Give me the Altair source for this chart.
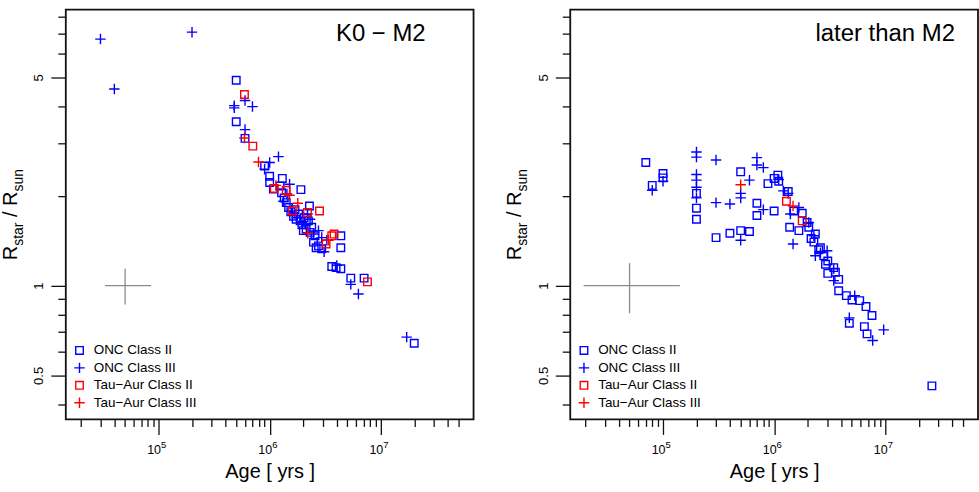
import altair as alt
import numpy as np
import pandas as pd

FONT = "Liberation Sans"
SERIES = ["ONC Class II", "ONC Class III", "Tau−Aur Class II", "Tau−Aur Class III"]
COLORS = ["#0000ff", "#0000ff", "#ff0000", "#ff0000"]
SQUARE = "M-0.72,-0.72H0.72V0.72H-0.72Z"
PLUS = "M-1,0H1M0,-1V1"
SHAPES = [SQUARE, PLUS, SQUARE, PLUS]

# ---------------- K0 – M2 ----------------
k_onc2_age = [5.0e5, 5.0e5, 6.0e5, 9.0e5, 1.0e6, 1.0e6, 1.08e6, 1.30e6, 1.24e6, 1.28e6,
              1.35e6, 1.41e6, 1.48e6, 1.55e6, 1.64e6, 1.73e6, 1.82e6, 1.88e6, 1.95e6, 2.04e6,
              2.13e6, 2.23e6, 2.31e6, 2.39e6, 2.48e6, 2.62e6, 2.75e6, 2.94e6, 1.91e6, 2.28e6,
              4.37e6, 4.37e6, 3.62e6, 3.96e6, 4.37e6, 5.37e6, 7.08e6, 2.0e7, 1.69e6, 2.01e6,
              2.56e6]
k_onc2_r = [4.89, 3.55, 3.12, 2.52, 2.33, 2.22, 2.11, 2.29, 2.16, 2.05,
            1.97, 1.90, 1.83, 1.77, 1.71, 1.67, 1.74, 1.65, 1.60, 1.69,
            1.55, 1.65, 1.51, 1.57, 1.40, 1.34, 1.36, 1.33, 2.10, 1.85,
            1.47, 1.34, 1.16, 1.15, 1.14, 1.06, 1.06, 0.641, 1.80, 1.53,
            1.47]
k_onc3_age = [3.0e4, 2.0e5, 4.0e4, 4.8e5, 4.8e5, 6.0e5, 7.0e5, 6.0e5, 1.2e6, 1.0e6,
              9.0e5, 1.51e6, 1.43e6, 1.33e6, 1.58e6, 1.75e6, 1.95e6, 2.19e6, 2.31e6, 2.75e6,
              2.94e6, 3.09e6, 3.27e6, 4.02e6, 5.37e6, 6.29e6, 1.71e7, 2.08e6, 2.48e6]
k_onc3_r = [6.72, 7.09, 4.57, 4.02, 3.95, 4.18, 3.99, 3.34, 2.71, 2.59,
            2.46, 2.19, 2.03, 1.92, 1.78, 1.69, 1.63, 1.74, 1.67, 1.53,
            1.45, 1.30, 1.42, 1.17, 1.01, 0.938, 0.672, 1.61, 1.49]
k_tau2_age = [5.93e5, 7.05e5, 1.10e6, 1.41e6, 1.60e6, 2.19e6, 2.81e6, 3.22e6, 3.62e6, 3.80e6, 7.59e6]
k_tau2_r = [4.38, 2.94, 2.12, 2.09, 1.78, 1.76, 1.78, 1.38, 1.47, 1.49, 1.03]
k_tau3_age = [5.93e5, 7.93e5, 1.14e6, 1.51e6, 1.79e6, 2.20e6, 3.38e6]
k_tau3_r = [3.13, 2.60, 2.17, 2.01, 1.89, 1.50, 1.42]

# ---------------- later than M2 ----------------
m_onc2_age = [7e4, 8e4, 1e5, 1e5, 2e5, 2e5, 2e5, 3e5, 4e5, 5e5,
              6e5, 5e5, 7e5, 7e5, 8.8e5, 1.0e6, 1.0e6, 1.08e6, 1.1e6, 1.34e6,
              1.38e6, 1.67e6, 1.79e6, 1.50e6, 1.98e6, 2.15e6, 2.35e6, 2.52e6, 2.80e6, 3.04e6,
              3.04e6, 3.56e6, 3.81e6, 3.81e6, 4.47e6, 5.02e6, 5.89e6, 6.71e6, 7.60e6, 4.75e6,
              6.49e6, 6.86e6, 2.63e7, 2.05e6, 2.28e6, 2.61e6, 2.90e6, 3.44e6]
m_onc2_r = [2.59, 2.17, 2.38, 2.30, 2.04, 1.82, 1.67, 1.45, 1.50, 1.53,
            1.52, 2.41, 1.89, 1.72, 2.20, 1.78, 2.29, 2.35, 2.24, 2.07,
            1.57, 1.53, 1.75, 1.78, 1.63, 1.44, 1.49, 1.32, 1.26, 1.21,
            1.10, 1.11, 1.05, 0.962, 0.926, 0.895, 0.891, 0.851, 0.794, 0.748,
            0.729, 0.689, 0.461, 1.57, 1.40, 1.34, 1.18, 1.15]
m_onc3_age = [8e4, 1e5, 2e5, 2e5, 2e5, 2e5, 2e5, 2e5, 3e5, 3e5,
              4e5, 5e5, 5e5, 5e5, 6e5, 7e5, 7e5, 8e5, 8e5, 1.1e6,
              1.21e6, 1.34e6, 1.40e6, 1.48e6, 1.67e6, 2.05e6, 2.28e6, 2.35e6, 2.61e6, 3.0e6,
              3.44e6, 3.44e6, 4.75e6, 5.31e6, 7.71e6, 9.68e6]
m_onc3_r = [2.09, 2.24, 2.81, 2.70, 2.36, 2.26, 2.14, 1.97, 2.64, 1.90,
            1.88, 2.04, 1.97, 1.42, 2.26, 2.69, 2.54, 2.49, 1.80, 2.27,
            2.08, 2.04, 1.74, 1.38, 1.83, 1.63, 1.47, 1.26, 1.29, 1.31,
            1.14, 1.04, 0.780, 0.926, 0.655, 0.711]
m_tau2_age = [1.29e6, 1.79e6]
m_tau2_r = [1.92, 1.65]
m_tau3_age = [5e5, 1.48e6]
m_tau3_r = [2.18, 1.85]

# typical uncertainty crosses (centre, age range, radius range)
k_err = dict(age=5e4, r=1.0, age_lo=3.3e4, age_hi=8.55e4, r_lo=0.864, r_hi=1.14)
m_err = dict(age=5e4, r=1.0, age_lo=1.93e4, age_hi=1.42e5, r_lo=0.808, r_hi=1.19)

PANEL_TITLES = ["K0 − M2", "later than M2"]
TITLE_POS = (1e7, 7.0)

XLIM = (2e4, 5e7)
YLIM = (0.4, 7.5)
X_MAJOR = [1e5, 1e6, 1e7]
X_EXP = ["5", "6", "7"]
X_MINOR = [m * 10 ** e for e in (4, 5, 6, 7) for m in range(2, 10)
           if XLIM[0] <= m * 10 ** e <= XLIM[1]]
Y_MAJOR = [0.5, 1, 5]
Y_MINOR = [0.4, 0.6, 0.7, 0.8, 0.9, 2, 3, 4, 6, 7, 8]

W, H = 409, 411
BOX = "#111111"


def padded(lims, frac=0.04):
    a, b = np.log10(lims[0]), np.log10(lims[1])
    d = (b - a) * frac
    return [10 ** (a - d), 10 ** (b + d)]


XDOM = padded(XLIM)
YDOM = padded(YLIM)


def points_frame(groups):
    rows = []
    for name, (ages, radii) in zip(SERIES, groups):
        rows.append(pd.DataFrame({"age": ages, "r": radii, "series": name}))
    return pd.concat(rows, ignore_index=True)


def panel(groups, err, title):
    xs = alt.Scale(type="log", domain=XDOM, nice=False)
    ys = alt.Scale(type="log", domain=YDOM, nice=False)

    legend = alt.Legend(title=None, orient="none", legendX=7, legendY=335,
                        labelFont=FONT, labelFontSize=13.5, labelColor="black",
                        labelOffset=7.5, symbolSize=110, symbolStrokeWidth=1.4,
                        rowPadding=1.5, padding=0, labelLimit=0)

    pts = alt.Chart(points_frame(groups)).mark_point(
        filled=False, size=110, strokeWidth=1.4, opacity=1
    ).encode(
        x=alt.X("age:Q", scale=xs, axis=alt.Axis(
            values=X_MAJOR, orient="bottom", tickSize=15, tickWidth=1.3, tickColor=BOX,
            labels=False, domain=False, grid=False, title="Age [ yrs ]",
            titleFont=FONT, titleFontSize=20, titleFontWeight="normal",
            titleColor="black", titlePadding=27)),
        y=alt.Y("r:Q", scale=ys, axis=alt.Axis(
            values=Y_MAJOR, orient="left", tickSize=15, tickWidth=1.3, tickColor=BOX,
            labelExpr="'' + datum.value", labelAngle=270, labelAlign="center",
            labelBaseline="alphabetic", labelPadding=8, labelFont=FONT,
            labelFontSize=13, labelColor="black", domain=False, grid=False, title=None)),
        color=alt.Color("series:N", scale=alt.Scale(domain=SERIES, range=COLORS), legend=legend),
        shape=alt.Shape("series:N", scale=alt.Scale(domain=SERIES, range=SHAPES), legend=legend),
    )

    err_df = pd.DataFrame([err])
    hbar = alt.Chart(err_df).mark_rule(color="#8a8a8a", strokeWidth=1.3).encode(
        x=alt.X("age_lo:Q", scale=xs, axis=alt.Axis(
            values=X_MINOR, orient="bottom", tickSize=7, tickWidth=1.3, tickColor=BOX,
            labels=False, domain=False, grid=False, title=None)),
        x2="age_hi:Q",
        y=alt.Y("r:Q", scale=ys, axis=alt.Axis(
            values=Y_MINOR, orient="left", tickSize=8, tickWidth=1.3, tickColor=BOX,
            labels=False, domain=False, grid=False, title=None)),
    )
    vbar = alt.Chart(err_df).mark_rule(color="#8a8a8a", strokeWidth=1.3).encode(
        x=alt.X("age:Q", scale=xs, axis=None),
        y=alt.Y("r_lo:Q", scale=ys, axis=None),
        y2="r_hi:Q",
    )

    # decade tick labels: "10" with a raised exponent
    tick_df = pd.DataFrame({"v": X_MAJOR, "base": ["10"] * len(X_MAJOR), "exp": X_EXP})
    base_lbl = alt.Chart(tick_df).mark_text(
        align="right", baseline="alphabetic", dx=2.5, fontSize=12.5, font=FONT, color="black"
    ).encode(x=alt.X("v:Q", scale=xs, axis=None), y=alt.value(H + 35), text="base:N")
    exp_lbl = alt.Chart(tick_df).mark_text(
        align="left", baseline="alphabetic", dx=2.5, fontSize=9.5, font=FONT, color="black"
    ).encode(x=alt.X("v:Q", scale=xs, axis=None), y=alt.value(H + 29), text="exp:N")

    title_df = pd.DataFrame({"x": [TITLE_POS[0]], "y": [TITLE_POS[1]], "t": [title]})
    title_txt = alt.Chart(title_df).mark_text(
        align="center", baseline="middle", fontSize=24, font=FONT, color="black"
    ).encode(x=alt.X("x:Q", scale=xs, axis=None), y=alt.Y("y:Q", scale=ys, axis=None), text="t:N")

    # y axis title R_star / R_sun built from pieces (main text and subscripts)
    pieces = [("R", 20, -45.7, 0), ("star", 14, -31.3, 6), ("/", 20, -2.4, 0),
              ("R", 20, 8.7, 0), ("sun", 14, 23.1, 6)]
    ytitle = [
        alt.Chart(pd.DataFrame({"t": [txt]})).mark_text(
            angle=270, align="left", baseline="alphabetic", fontSize=fs, font=FONT,
            color="black", dx=dx, dy=dy
        ).encode(x=alt.value(-49), y=alt.value(H / 2), text="t:N")
        for txt, fs, dx, dy in pieces
    ]

    return alt.layer(pts, hbar, vbar, base_lbl, exp_lbl, title_txt, *ytitle).resolve_axis(
        x="independent", y="independent"
    ).properties(
        width=W, height=H,
        view=alt.ViewBackground(stroke=BOX, strokeWidth=1.8, strokeOpacity=1, fill="white"),
    )


left = panel([(k_onc2_age, k_onc2_r), (k_onc3_age, k_onc3_r),
              (k_tau2_age, k_tau2_r), (k_tau3_age, k_tau3_r)], k_err, PANEL_TITLES[0])
right = panel([(m_onc2_age, m_onc2_r), (m_onc3_age, m_onc3_r),
               (m_tau2_age, m_tau2_r), (m_tau3_age, m_tau3_r)], m_err, PANEL_TITLES[1])

chart = alt.hconcat(left, right, spacing=30).resolve_scale(
    color="independent", shape="independent"
).properties(
    padding={"left": 0, "top": 8, "right": 0, "bottom": 0},
    background="white",
).configure(font=FONT).configure_view(stroke=BOX, strokeWidth=1.8)

chart.save("out.html", embed_options={"renderer": "svg", "actions": False})
